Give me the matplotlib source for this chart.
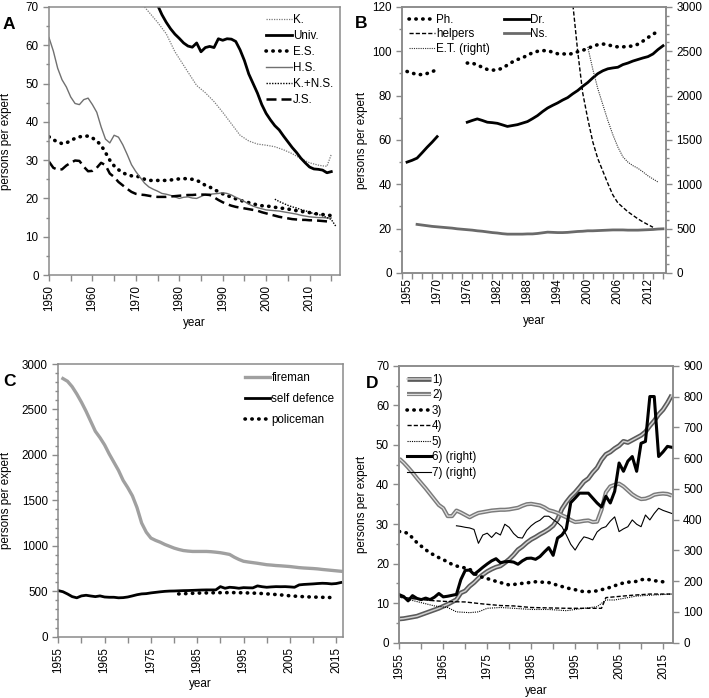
"""
Persons per expert — four panels (A: teachers, B: medical, C: safety, D: misc.)
"""
import numpy as np
import matplotlib
matplotlib.use("Agg")
import matplotlib.pyplot as plt
from matplotlib.ticker import MultipleLocator, FixedLocator

plt.rcParams["font.family"] = ["Liberation Sans", "DejaVu Sans"]
FS = 8.4
GRID = "#8a8a8a"
nan = np.nan

# ── PANEL A ─────────────────────────────────────────────
a_years = list(range(1950, 2016))
a_es = [36.1, 35.3, 34.8, 34.3, 34.5, 35.1, 35.7, 36.1, 36.2, 36.3, 35.8, 35.0, 33.9, 32.0, 30.0,
        28.5, 27.5, 26.7, 26.2, 25.9, 25.7, 25.7, 25.0, 24.7, 24.7, 24.7, 24.7, 24.7, 24.8, 25.0,
        25.1, 25.2, 25.1, 25.0, 24.7, 24.2, 23.4, 23.0, 22.3, 21.8, 21.2, 20.7, 20.4, 19.9, 19.5,
        19.2, 18.9, 18.6, 18.3, 18.1, 18.0, 17.9, 17.7, 17.5, 17.4, 17.2, 17.1, 16.8, 16.6, 16.5,
        16.3, 16.1, 15.9, 15.8, 15.7, 15.5]
a_hs = [62.0, 58.5, 54.0, 51.0, 49.1, 46.5, 44.8, 44.5, 45.8, 46.2, 44.5, 42.5, 38.7, 35.5, 34.5,
        36.5, 36.0, 34.0, 31.5, 28.8, 27.0, 25.5, 24.0, 23.0, 22.4, 21.9, 21.3, 21.1, 20.8, 20.4,
        20.0, 20.3, 20.4, 20.1, 20.0, 20.5, 21.0, 21.1, 21.2, 21.3, 21.5, 21.3, 20.9, 20.3, 19.8,
        19.2, 18.5, 18.0, 17.6, 17.3, 17.0, 16.9, 16.8, 16.7, 16.5, 16.3, 16.1, 15.9, 15.6, 15.4,
        15.2, 15.1, 15.0, 15.0, 14.9, 14.9]
a_js = [29.6, 28.0, 27.5, 27.6, 28.6, 29.3, 29.9, 29.8, 28.3, 27.1, 27.2, 28.0, 29.3, 28.7, 26.5,
        25.6, 24.3, 23.4, 22.5, 21.7, 21.2, 21.0, 20.9, 20.7, 20.5, 20.4, 20.4, 20.4, 20.5, 20.6,
        20.7, 20.8, 20.9, 20.9, 21.0, 21.0, 21.0, 20.9, 20.3, 19.6, 19.0, 18.5, 18.1, 17.8, 17.6,
        17.4, 17.2, 17.0, 16.8, 16.4, 16.1, 15.8, 15.5, 15.2, 15.0, 14.8, 14.6, 14.5, 14.4, 14.4,
        14.3, 14.3, 14.2, 14.1, 14.0, 13.9]
k_years = [1970, 1972, 1975, 1977, 1979, 1982, 1984, 1986, 1988, 1990, 1992, 1994, 1996, 1998,
           2000, 2002, 2004, 2006, 2008, 2010, 2012, 2013, 2014, 2015]
k_vals = [73.0, 70.0, 66.0, 63.0, 58.3, 53.0, 49.5, 47.6, 45.3, 42.5, 39.5, 36.5, 35.0, 34.2,
          33.9, 33.5, 32.7, 31.7, 30.4, 29.3, 28.7, 28.5, 28.4, 31.5]
univ_years = list(range(1974, 2016))
univ_vals = [73.0, 70.5, 68.0, 66.0, 64.3, 62.9, 61.8, 60.6, 59.8, 59.5, 60.6, 58.3, 59.4, 59.7,
             59.4, 61.7, 61.3, 61.7, 61.6, 61.0, 58.8, 56.0, 52.5, 50.0, 47.5, 44.5, 42.2, 40.5,
             39.0, 37.9, 36.3, 34.8, 33.3, 32.0, 30.5, 29.3, 28.2, 27.7, 27.6, 27.4, 26.7, 27.0]
kns_years = list(range(2002, 2017))
kns_vals = [19.8, 19.2, 18.7, 18.2, 17.8, 17.5, 17.1, 16.8, 16.4, 16.0, 15.8, 15.5, 15.0, 14.5, 12.8]

# ── PANEL B (category axis, gap between 1970 and 1976) ──
b_tick_labels = ["1955", "1970", "1976", "1982", "1988", "1994", "2000", "2006", "2012"]
b_dr = [50.0, 50.8, 51.8, 54.2, 56.7, 59.0, 61.5, nan, nan, nan, nan, nan,
        68.0, 68.8, 69.5, 68.8, 68.0, 67.8, 67.5, 66.8, 66.1, 66.5, 66.9, 67.6, 68.3, 69.6,
        71.0, 72.8, 74.4, 75.6, 76.7, 78.0, 79.1, 80.8, 82.3, 84.2, 85.9, 88.0, 89.9, 91.2,
        92.1, 92.5, 92.8, 94.0, 94.7, 95.6, 96.3, 97.0, 97.6, 98.8, 100.8, 102.5]
b_ph = [90.9, 90.2, 89.5, 89.5, 90.0, 90.8, 91.8, nan, nan, nan, nan, nan,
        94.7, 94.7, 93.8, 92.8, 91.8, 91.5, 91.6, 92.4, 93.8, 95.2, 96.3, 97.0, 98.3, 99.3,
        100.0, 100.3, 100.3, 99.6, 98.9, 98.9, 98.6, 99.0, 99.8, 100.4, 101.4, 102.2, 103.0,
        103.3, 103.0, 102.3, 102.0, 102.0, 102.2, 102.4, 103.2, 104.6, 106.2, 107.7, 109.0, nan]
b_ns = [nan, nan, 21.9, 21.6, 21.3, 21.0, 20.8, 20.6, 20.4, 20.2, 19.9, 19.7, 19.5, 19.3, 19.0,
        18.8, 18.5, 18.2, 18.0, 17.7, 17.5, 17.5, 17.5, 17.5, 17.6, 17.6, 17.8, 18.1, 18.4,
        18.3, 18.2, 18.2, 18.3, 18.5, 18.7, 18.8, 19.0, 19.0, 19.1, 19.2, 19.3, 19.4, 19.4,
        19.4, 19.3, 19.3, 19.3, 19.4, 19.5, 19.6, 19.8, 19.9]
b_helpers = [nan] * 32 + [3700, 3050, 2500, 2030, 1740, 1480, 1290, 1150, 1010, 880, 790, 740,
                          690, 650, 610, 575, 545, 515, nan, nan]
b_et = [nan] * 36 + [2550, 2300, 2080, 1900, 1720, 1560, 1420, 1310, 1250, 1210, 1180, 1140,
                     1095, 1060, 1025, nan]

# ── PANEL C ─────────────────────────────────────────────
c_years = list(range(1955, 2017))
c_fire = [nan, 2840, 2810, 2750, 2670, 2580, 2480, 2370, 2260, 2190, 2110, 2010, 1920, 1830,
          1720, 1640, 1550, 1420, 1250, 1150, 1085, 1060, 1040, 1015, 995, 975, 960, 948, 942,
          938, 938, 938, 938, 935, 930, 924, 915, 905, 875, 850, 830, 822, 815, 808, 800, 792,
          788, 783, 780, 776, 772, 766, 760, 756, 753, 750, 746, 740, 735, 730, 725, 720]
c_self = [507, 495, 470, 441, 428, 449, 456, 448, 441, 449, 437, 434, 434, 428, 430, 437, 449,
          462, 471, 474, 482, 488, 494, 499, 502, 503, 505, 507, 508, 510, 512, 514, 515, 515,
          515, 551, 533, 544, 540, 533, 540, 538, 537, 559, 550, 544, 548, 551, 550, 551, 548,
          544, 570, 575, 578, 581, 585, 588, 586, 581, 585, 596]
pol_years = [1981, 1983, 1985, 1987, 1989, 1991, 1993, 1995, 1997, 1999, 2001, 2003, 2005,
             2007, 2009, 2011, 2013, 2015]
pol_vals = [471, 475, 480, 482, 484, 485, 485, 483, 480, 475, 468, 460, 450, 443, 438, 435,
            432, 430]

# ── PANEL D ─────────────────────────────────────────────
d_years = list(range(1955, 2018))
d_1 = [6.0, 6.1, 6.3, 6.5, 6.7, 7.1, 7.5, 7.9, 8.3, 8.7, 9.2, 9.7, 10.3, 10.9, 12.6, 13.1, 14.3,
       15.2, 16.3, 17.2, 18.0, 18.6, 19.1, 19.4, 20.2, 21.1, 22.2, 23.5, 24.3, 25.3, 26.1, 26.7,
       27.4, 28.0, 28.7, 29.6, 31.2, 33.8, 35.5, 36.9, 38.0, 39.3, 40.7, 41.5, 43.0, 44.2, 46.2,
       47.6, 48.2, 49.1, 49.8, 50.9, 50.6, 51.2, 51.8, 52.4, 53.3, 54.8, 56.1, 57.7, 58.9, 60.6,
       62.6]
d_2 = [46.5, 45.5, 44.3, 43.0, 41.6, 40.3, 39.0, 37.6, 36.2, 34.8, 34.0, 32.0, 32.0, 33.4, 32.9,
       32.3, 31.7, 32.3, 32.8, 33.0, 33.2, 33.4, 33.5, 33.6, 33.6, 33.7, 33.9, 34.1, 34.6, 35.0,
       35.1, 34.9, 34.7, 34.2, 33.5, 33.2, 32.8, 32.2, 31.7, 31.0, 30.5, 30.6, 30.8, 30.9, 30.5,
       30.6, 33.6, 38.0, 39.5, 39.9, 40.2, 39.5, 38.5, 37.5, 36.8, 36.3, 36.4, 36.8, 37.4, 37.6,
       37.7, 37.6, 37.2]
d_3 = [28.1, 28.0, 27.6, 26.5, 25.3, 24.4, 23.5, 22.7, 22.1, 21.5, 21.0, 20.4, 19.8, 19.4, 19.1,
       18.9, 18.6, 17.6, 16.9, 16.5, 16.2, 15.9, 15.5, 15.2, 14.9, 14.6, 14.7, 14.9, 15.0, 15.1,
       15.3, 15.4, 15.3, 15.3, 15.2, 14.9, 14.5, 14.2, 13.9, 13.6, 13.4, 13.1, 12.9, 12.9, 13.0,
       13.1, 13.4, 13.7, 14.0, 14.4, 14.8, 15.1, 15.3, 15.4, 15.5, 15.9, 16.1, 15.9, 15.7, 15.5,
       15.4, nan, nan]
d4_years = [1955, 1959, 1963, 1966, 1970, 1974, 1978, 1981, 1985, 1989, 1993, 1997, 2001, 2002,
            2004, 2008, 2012, 2017]
d_4 = [11.6, 11.0, 10.6, 10.4, 10.3, 9.8, 9.4, 9.3, 8.9, 8.8, 8.7, 8.7, 8.7, 11.4, 11.6, 12.0,
       12.3, 12.3]
d5_years = [1955, 1959, 1963, 1966, 1968, 1971, 1973, 1975, 1978, 1981, 1985, 1989, 1993, 1997,
            2000, 2002, 2004, 2006, 2009, 2012, 2017]
d_5 = [11.5, 10.4, 9.3, 8.9, 7.8, 7.6, 7.8, 8.7, 8.9, 8.7, 8.4, 8.4, 8.1, 8.7, 9.1, 10.8, 10.8,
       11.2, 11.8, 12.0, 12.3]
d_6 = [156, 150, 136, 153, 144, 140, 145, 140, 148, 160, 149, 151, 154, 157, 205, 235, 236, 222,
       233, 245, 256, 266, 273, 260, 263, 264, 262, 255, 266, 274, 275, 271, 280, 295, 309, 284,
       340, 350, 370, 455, 470, 486, 486, 486, 470, 454, 441, 476, 454, 492, 584, 557, 590, 605,
       557, 648, 654, 800, 800, 605, 620, 638, 635]
d_7 = [nan] * 13 + [380, 378, 375, 373, 368, 323, 350, 356, 342, 358, 350, 385, 375, 355, 342,
                    340, 365, 380, 391, 398, 411, 411, 400, 390, 377, 350, 320, 301, 325, 344,
                    340, 334, 360, 372, 377, 395, 409, 361, 370, 377, 399, 385, 377, 415, 399,
                    420, 437, 430, 425, 420]

DOTS = dict(linestyle=(0, (0.1, 1.8)), dash_capstyle="round", lw=2.6, color="black")
YEAR_TICKS = list(range(1955, 2016, 10))


def style(ax):
    for s in ax.spines.values():
        s.set_color(GRID)
        s.set_linewidth(1.1)
    ax.tick_params(which="both", direction="out", color=GRID, labelsize=FS, width=1)
    ax.tick_params(which="major", length=4)
    ax.tick_params(which="minor", length=2.5)


def year_axis(ax, ticks):
    ax.xaxis.set_major_locator(FixedLocator(ticks))
    ax.xaxis.set_minor_locator(MultipleLocator(5))
    ax.tick_params(axis="x", which="both", length=4)
    plt.setp(ax.get_xticklabels(), rotation=90)


fig = plt.figure(figsize=(7.09, 6.98), dpi=100)

# A
ax = fig.add_axes([0.0691, 0.606, 0.4104, 0.384])
ax.plot(k_years, k_vals, color="#7a7a7a", lw=0.9, linestyle=(0, (1, 1)), label="K.")
ax.plot(univ_years, univ_vals, color="black", lw=2.0, label="Univ.")
ax.plot(a_years, a_es, label="E.S.", **DOTS)
ax.plot(a_years, a_hs, color="#707070", lw=1.0, label="H.S.")
ax.plot(kns_years, kns_vals, color="black", lw=1.0, linestyle=(0, (1, 1)), label="K.+N.S.")
ax.plot(a_years, a_js, color="black", lw=1.8, linestyle=(0, (4, 2)), label="J.S.")
ax.set_xlim(1950, 2017)
ax.set_ylim(0, 70)
ax.yaxis.set_major_locator(MultipleLocator(10))
ax.yaxis.set_minor_locator(MultipleLocator(5))
style(ax)
year_axis(ax, list(range(1950, 2011, 10)))
ax.set_ylabel("persons per expert", fontsize=FS)
ax.set_xlabel("year", fontsize=FS)
ax.yaxis.set_label_coords(-0.127, 0.5)
ax.xaxis.set_label_coords(0.5, -0.157)
ax.legend(loc="upper right", bbox_to_anchor=(1.0, 1.0), frameon=False, fontsize=FS,
          handlelength=2.2, handletextpad=0.1, labelspacing=0.35, borderaxespad=0.2)

# B
bx = fig.add_axes([0.567, 0.609, 0.3724, 0.381])
b_idx = np.arange(len(b_dr))
bx.plot(b_idx, b_ph, label="Ph.", **DOTS)
bx.plot(b_idx, b_dr, color="black", lw=2.0, label="Dr.")
bx.plot(b_idx, b_ns, color="#6a6a6a", lw=2.0, label="Ns.")
bx.set_xlim(-1, 51.6)
bx.set_ylim(0, 120)
bx.xaxis.set_major_locator(FixedLocator(np.arange(0, 49, 6)))
bx.set_xticklabels(b_tick_labels, rotation=90)
bx.xaxis.set_minor_locator(FixedLocator(np.arange(-1, 52, 2)))
bx.yaxis.set_major_locator(MultipleLocator(20))
bx.yaxis.set_minor_locator(MultipleLocator(10))
style(bx)
bx.tick_params(axis="x", which="major", length=0)
bx.tick_params(axis="x", which="minor", length=4)
bx.set_ylabel("persons per expert", fontsize=FS)
bx.set_xlabel("year", fontsize=FS)
bx.yaxis.set_label_coords(-0.129, 0.5)
bx.xaxis.set_label_coords(0.5, -0.158)
bx2 = bx.twinx()
bx2.plot(b_idx, b_helpers, color="black", lw=1.0, linestyle=(0, (3, 1.5)), label="helpers")
bx2.plot(b_idx, b_et, color="#333333", lw=0.8, linestyle=(0, (1, 1)), label="E.T. (right)")
bx2.set_ylim(0, 3000)
bx2.yaxis.set_major_locator(MultipleLocator(500))
bx2.yaxis.set_minor_locator(MultipleLocator(100))
style(bx2)
h1, l1 = bx.get_legend_handles_labels()
h2, l2 = bx2.get_legend_handles_labels()
bx2.legend([h1[0], h2[0], h2[1], h1[1], h1[2]], [l1[0], l2[0], l2[1], l1[1], l1[2]],
           loc="upper left", ncol=2, frameon=False, fontsize=FS, handlelength=2.2,
           handletextpad=0.1, labelspacing=0.2, columnspacing=1.2, borderaxespad=0.2)

# C
cx = fig.add_axes([0.0822, 0.0878, 0.4011, 0.3907])
cx.plot(c_years, c_fire, color="#a0a0a0", lw=2.4, label="fireman")
cx.plot(c_years, c_self, color="black", lw=2.0, label="self defence")
cx.plot(pol_years, pol_vals, label="policeman", **DOTS)
cx.set_xlim(1955, 2016.4)
cx.set_ylim(0, 3000)
cx.yaxis.set_major_locator(MultipleLocator(500))
cx.yaxis.set_minor_locator(MultipleLocator(100))
style(cx)
year_axis(cx, YEAR_TICKS)
cx.set_ylabel("persons per expert", fontsize=FS)
cx.set_xlabel("year", fontsize=FS)
cx.yaxis.set_label_coords(-0.163, 0.5)
cx.xaxis.set_label_coords(0.5, -0.151)
cx.legend(loc="upper right", bbox_to_anchor=(1.0, 1.0), frameon=False, fontsize=FS,
          handlelength=2.2, handletextpad=0.1, labelspacing=0.75, borderaxespad=0.3)

# D
dx = fig.add_axes([0.5632, 0.0792, 0.3856, 0.3968])
o1, = dx.plot(d_years, d_1, color="#5a5a5a", lw=3.4, solid_capstyle="butt")
i1, = dx.plot(d_years, d_1, color="#d0d0d0", lw=1.1)
o2, = dx.plot(d_years, d_2, color="#7a7a7a", lw=3.0, solid_capstyle="butt")
i2, = dx.plot(d_years, d_2, color="#dedede", lw=0.9)
l3, = dx.plot(d_years, d_3, **DOTS)
l4, = dx.plot(d4_years, d_4, color="black", lw=1.0, linestyle=(0, (3, 1.5)))
l5, = dx.plot(d5_years, d_5, color="black", lw=0.8, linestyle=(0, (1, 1)))
dx.set_xlim(1955, 2017.2)
dx.set_ylim(0, 70)
dx.yaxis.set_major_locator(MultipleLocator(10))
dx.yaxis.set_minor_locator(MultipleLocator(5))
style(dx)
year_axis(dx, YEAR_TICKS)
dx.set_ylabel("persons per expert", fontsize=FS)
dx.set_xlabel("year", fontsize=FS)
dx.yaxis.set_label_coords(-0.114, 0.5)
dx.xaxis.set_label_coords(0.5, -0.153)
dx2 = dx.twinx()
l6, = dx2.plot(d_years, d_6, color="black", lw=2.2)
l7, = dx2.plot(d_years, d_7, color="black", lw=0.8)
dx2.set_ylim(0, 900)
dx2.yaxis.set_major_locator(MultipleLocator(100))
style(dx2)
dx2.legend([(o1, i1), (o2, i2), l3, l4, l5, l6, l7],
           ["1)", "2)", "3)", "4)", "5)", "6) (right)", "7) (right)"],
           loc="upper left", frameon=False, fontsize=FS, handlelength=2.0, handletextpad=0.1,
           labelspacing=0.3, borderaxespad=0.3)

for txt, x, y in [("A", 0.004, 0.975), ("B", 0.5, 0.977), ("C", 0.004, 0.464), ("D", 0.516, 0.461)]:
    fig.text(x, y, txt, fontsize=12.5, fontweight="bold", ha="left", va="top")

fig.savefig("out.png", dpi=100)
